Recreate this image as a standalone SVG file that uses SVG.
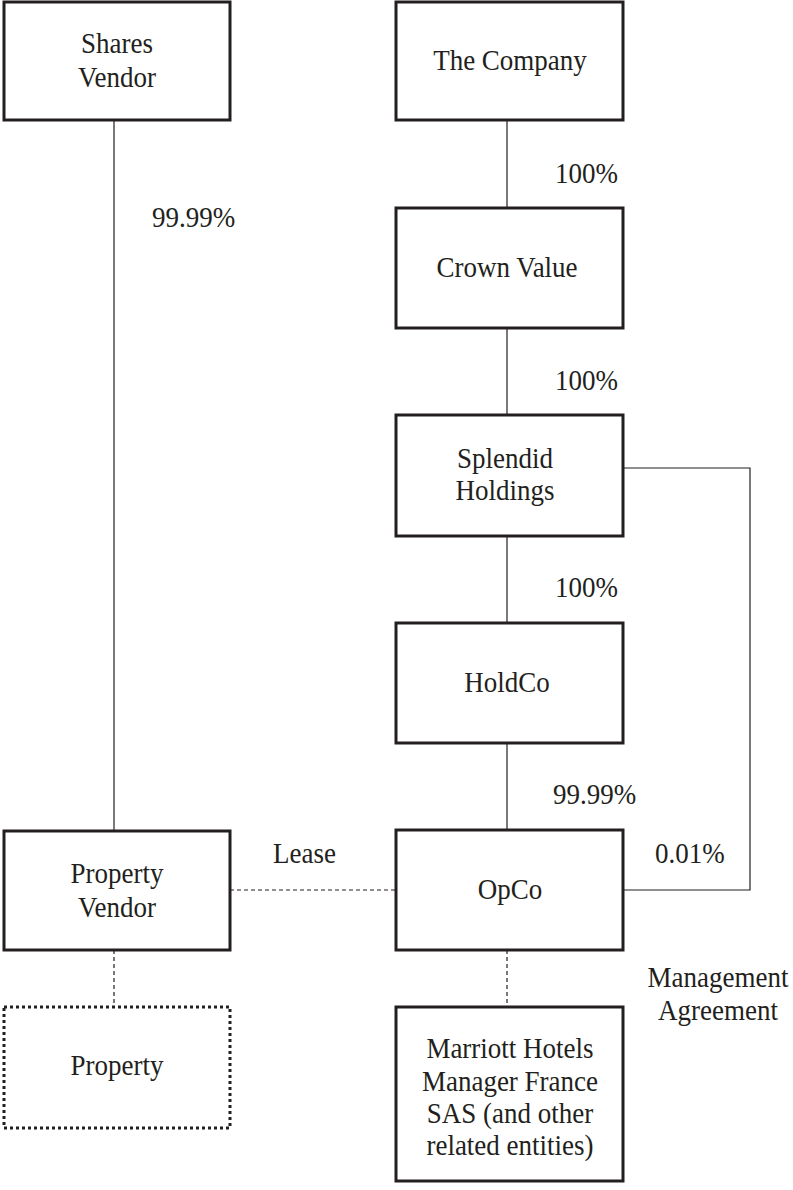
<svg xmlns="http://www.w3.org/2000/svg" width="793" height="1190" viewBox="0 0 793 1190">
<style>
.box{fill:#fff;stroke:#231f20;stroke-width:3}
.dot{fill:#fff;stroke:#231f20;stroke-width:3;stroke-dasharray:3 3}
.ln{stroke:#231f20;stroke-width:1.2;fill:none}
.dash{stroke:#231f20;stroke-width:1.2;fill:none;stroke-dasharray:4 3}
text{font-family:"Liberation Serif","Times New Roman",serif;font-size:27px;fill:#231f20}
.c{text-anchor:middle}
</style>
<rect width="793" height="1190" fill="#fff"/>
<g id="connectors">
<line class="ln" x1="114" y1="120" x2="114" y2="831"/>
<line class="ln" x1="507" y1="120" x2="507" y2="208"/>
<line class="ln" x1="507" y1="328" x2="507" y2="415"/>
<line class="ln" x1="507" y1="536" x2="507" y2="623"/>
<line class="ln" x1="507" y1="743" x2="507" y2="830"/>
<polyline class="ln" points="623,468 750,468 750,890 623,890"/>
<line class="dash" x1="230" y1="890" x2="396" y2="890"/>
<line class="dash" x1="114" y1="950" x2="114" y2="1007"/>
<line class="dash" x1="507" y1="950" x2="507" y2="1007"/>
<text x="152" y="227" transform="matrix(1 0 0 1.1 0 -22.7)">99.99%</text>
<text x="555" y="183" transform="matrix(1 0 0 1.1 0 -18.3)">100%</text>
<text x="555" y="390" transform="matrix(1 0 0 1.1 0 -39)">100%</text>
<text x="555" y="597" transform="matrix(1 0 0 1.1 0 -59.7)">100%</text>
<text x="553" y="804" transform="matrix(1 0 0 1.1 0 -80.4)">99.99%</text>
<text x="655" y="863" transform="matrix(1 0 0 1.1 0 -86.3)">0.01%</text>
<text x="273" y="863" transform="matrix(1 0 0 1.1 0 -86.3)">Lease</text>
<text class="c" x="718" y="987" transform="matrix(1 0 0 1.1 0 -98.7)">Management</text>
<text class="c" x="718" y="1020" transform="matrix(1 0 0 1.1 0 -102)">Agreement</text>
</g>
<g id="shares-vendor"><rect class="box" x="4" y="2" width="226" height="118"/><text class="c" x="117" y="53" transform="matrix(1 0 0 1.1 0 -5.3)">Shares</text><text class="c" x="117" y="87" transform="matrix(1 0 0 1.1 0 -8.7)">Vendor</text></g>
<g id="the-company"><rect class="box" x="396" y="2" width="227" height="118"/><text class="c" x="510" y="70" transform="matrix(1 0 0 1.1 0 -7)">The Company</text></g>
<g id="crown-value"><rect class="box" x="396" y="208" width="227" height="120"/><text class="c" x="507" y="277" transform="matrix(1 0 0 1.1 0 -27.7)">Crown Value</text></g>
<g id="splendid-holdings"><rect class="box" x="396" y="415" width="227" height="121"/><text class="c" x="505" y="468" transform="matrix(1 0 0 1.1 0 -46.8)">Splendid</text><text class="c" x="505" y="500" transform="matrix(1 0 0 1.1 0 -50)">Holdings</text></g>
<g id="holdco"><rect class="box" x="396" y="623" width="227" height="120"/><text class="c" x="507" y="692" transform="matrix(1 0 0 1.1 0 -69.2)">HoldCo</text></g>
<g id="opco"><rect class="box" x="396" y="830" width="227" height="120"/><text class="c" x="510" y="899" transform="matrix(1 0 0 1.1 0 -89.9)">OpCo</text></g>
<g id="property-vendor"><rect class="box" x="4" y="831" width="226" height="119"/><text class="c" x="117" y="883" transform="matrix(1 0 0 1.1 0 -88.3)">Property</text><text class="c" x="117" y="917" transform="matrix(1 0 0 1.1 0 -91.7)">Vendor</text></g>
<g id="property"><rect class="dot" x="4" y="1007" width="226" height="121"/><text class="c" x="117" y="1075" transform="matrix(1 0 0 1.1 0 -107.5)">Property</text></g>
<g id="marriott"><rect class="box" x="396" y="1007" width="227" height="174"/><text class="c" x="510" y="1058" transform="matrix(1 0 0 1.1 0 -105.8)">Marriott Hotels</text><text class="c" x="510" y="1091" transform="matrix(1 0 0 1.1 0 -109.1)">Manager France</text><text class="c" x="510" y="1123" transform="matrix(1 0 0 1.1 0 -112.3)">SAS (and other</text><text class="c" x="510" y="1155" transform="matrix(1 0 0 1.1 0 -115.5)">related entities)</text></g>
</svg>
